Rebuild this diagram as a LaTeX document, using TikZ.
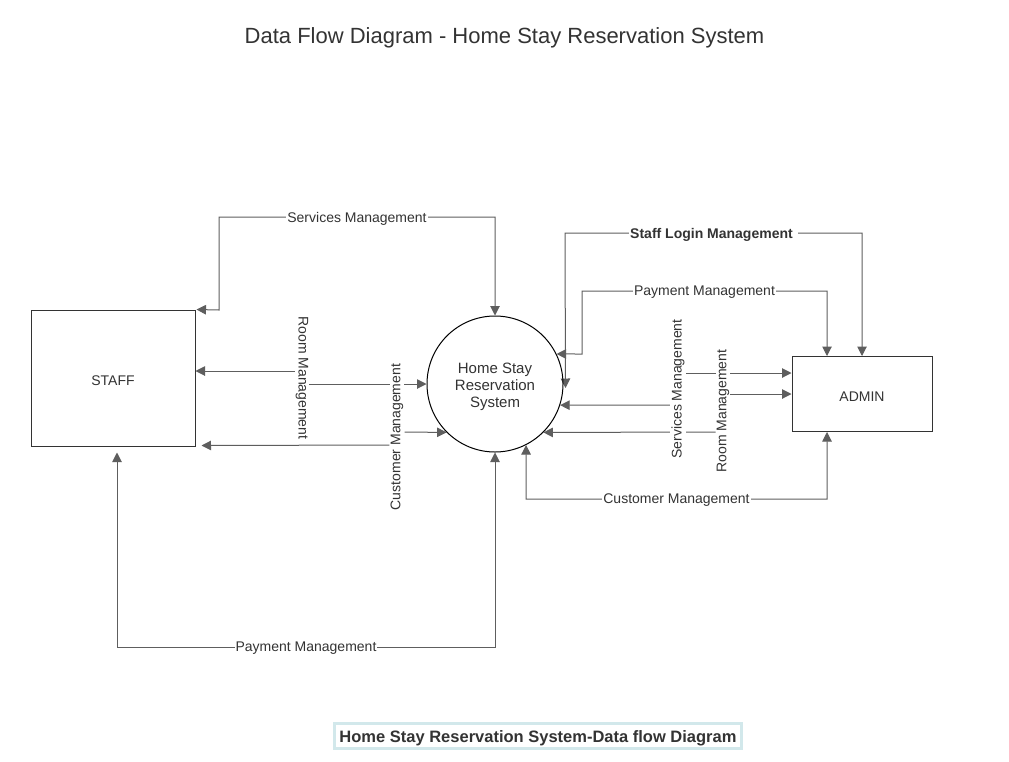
\documentclass[tikz,border=0pt]{standalone}
\usepackage{fontspec}
\setmainfont{Liberation Sans}
\usetikzlibrary{arrows.meta,calc}
\definecolor{linec}{HTML}{5E5E5E}
\definecolor{txtc}{HTML}{333333}
\definecolor{capbd}{HTML}{D2E8EB}
\pgfdeclarelayer{bg}
\pgfdeclarelayer{paper}
\pgfsetlayers{paper,bg,main}
\newcommand{\dropby}[2]{\raisebox{-#1}[\height][\depth]{#2}}
\begin{document}
\begin{tikzpicture}[x=1pt,y=-1pt,
  tip/.tip={Triangle[length=9.5pt,width=9.5pt]},
  flow/.style={draw=linec, line width=1pt, -tip},
  flowtwo/.style={draw=linec, line width=1pt, tip-tip},
  lbl/.style={fill=white, text=txtc, font=\fontsize{14}{16}\selectfont, inner sep=1pt},
  entity/.style={draw=txtc, line width=1pt, inner sep=0pt, text=txtc, font=\fontsize{14}{16}\selectfont},
  proc/.style={circle, draw=black, line width=1pt, inner sep=0pt, minimum size=136pt, align=center, text=txtc, font=\fontsize{15}{17}\selectfont}
]
\begin{pgfonlayer}{paper}
\fill[white] (0,0) rectangle (1009,761);
\end{pgfonlayer}
\useasboundingbox (0,0) rectangle (1009,761);

\node[text=txtc, font=\fontsize{22}{26}\selectfont] (title) at (504.5,37.5) {Data Flow Diagram - Home Stay Reservation System};

\node[entity, minimum width=164pt, minimum height=136pt] (staff) at (113,378) {\dropby{2.5pt}{STAFF}};
\node[proc] (circ) at (495,384) {\dropby{3pt}{\begin{tabular}{@{}c@{}}Home Stay\\Reservation\\System\end{tabular}}};
\node[entity, minimum width=140pt, minimum height=75pt] (admin) at (862,394) {\dropby{2.5pt}{ADMIN}};

% rotated labels
\node[lbl, rotate=-90] (rmL) at (302,378) {Room Management};
\node[lbl, rotate=90] (cmL) at (397,437) {Customer Management};
\node[lbl, rotate=90] (svR) at (678,389) {Services Management};
\node[lbl, rotate=90] (rmR) at (723,411) {Room Management};

\begin{pgfonlayer}{bg}
% Services Management (left)
\draw[flowtwo] (circ.north) -- (495,217) -- node[lbl] (svL) {\dropby{1.5pt}{Services Management}} (219,217) -- (219,310) -- ($(staff.north east)+(1,0)$);
% Room Management (left)
\draw[flow] (rmL.south |- 0,371) -- (staff.east |- 0,371);
\draw[flow] (rmL.north |- 0,384) -- (circ.west);
% Customer Management (left)
\draw[flow] (cmL.south |- 0,432) -- (circ.225);
\draw[flow] (cmL.north |- 0,445) -- ($(staff.south east)+(6,-1)$);
% Payment Management (bottom)
\draw[flowtwo] (circ.south) -- (495,647) -- node[lbl] (pmL) {\dropby{1.5pt}{Payment Management}} (117,647) -- ($(staff.south)+(4,6)$);
% Staff Login Management
\draw[flowtwo] ($(circ.east)+(2,4)$) -- (565,233) -- node[lbl, font=\bfseries\fontsize{14}{16}\selectfont] (slm) {\dropby{1.5pt}{Staff Login Management\hspace{4pt}}} (862,233) -- (admin.north);
% Payment Management (right)
\draw[flowtwo] (circ.26) -- (582,354) -- (582,291) -- node[lbl] (pmR) {\dropby{1.5pt}{Payment Management}} (827,291) -- ($(admin.north)+(-35,0)$);
% Services Management (right)
\draw[flow] (svR.south |- 0,373) -- (admin.west |- 0,373);
\draw[flow] (svR.north |- 0,405) -- (circ.-18);
% Room Management (right)
\draw[flow] (rmR.south |- 0,394) -- (admin.west |- 0,394);
\draw[flow] (rmR.north |- 0,432) -- (circ.-45);
% Customer Management (right)
\draw[flowtwo] (circ.-63) -- (526,499) -- node[lbl] (cmR) {\dropby{1.5pt}{Customer Management}} (827,499) -- ($(admin.south)+(-35,0)$);
\end{pgfonlayer}

\node[draw=capbd, line width=2.5pt, fill=white, text=txtc, font=\bfseries\fontsize{16.5}{19}\selectfont, minimum width=407pt, minimum height=25pt, inner sep=0pt] (cap) at (538,736) {\dropby{2pt}{Home Stay Reservation System-Data flow Diagram}};
\end{tikzpicture}
\end{document}
